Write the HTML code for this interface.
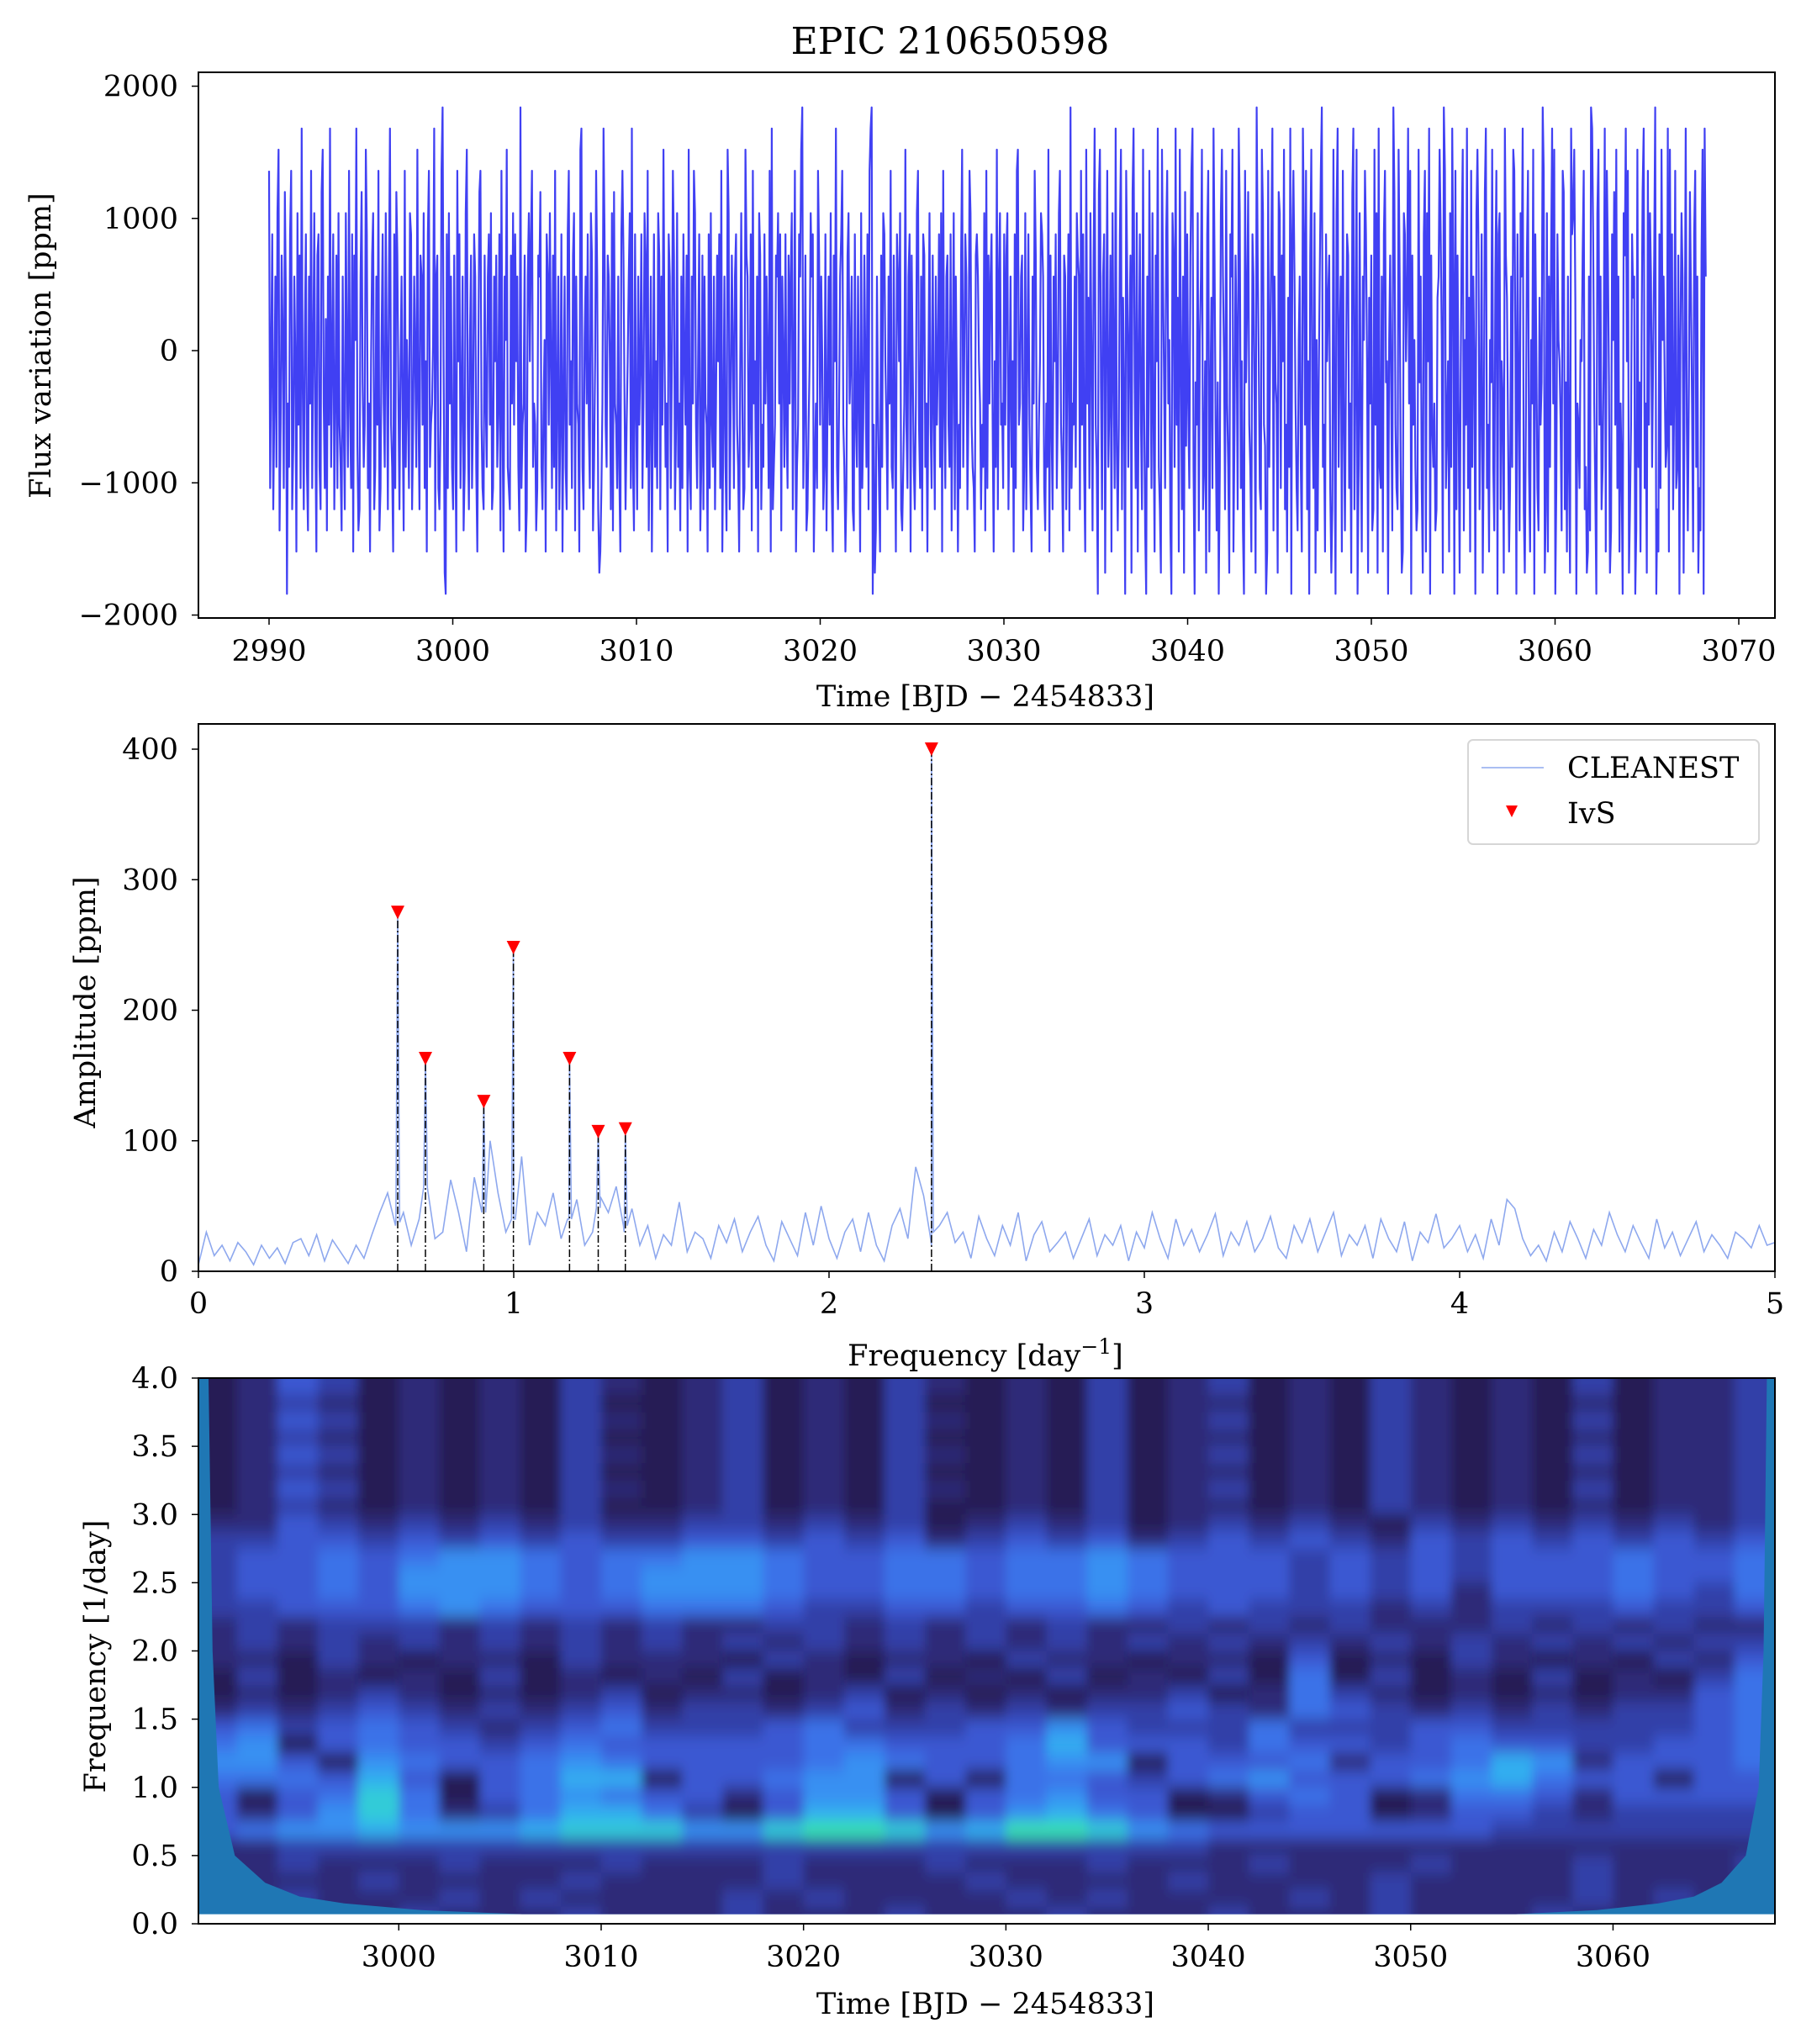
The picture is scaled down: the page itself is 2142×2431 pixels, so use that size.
<!DOCTYPE html>
<html><head><meta charset="utf-8"><style>
html,body{margin:0;padding:0;background:#fff}
svg text{font-family:"DejaVu Serif","Liberation Serif",serif;fill:#000}
</style></head><body>
<svg id="fig" width="2142" height="2426" viewBox="0 0 2142 2426" xmlns="http://www.w3.org/2000/svg">
<text x="1130" y="64" font-size="44" text-anchor="middle">EPIC 210650598</text>
<g id="p1"></g>
<g id="p2"></g>
<g id="p3"></g>
</svg>
<script>
// ---------- Panel 1 data: light curve (each letter = flux level, a=-2000 ... z=+2000 ppm, step 160) ----------
const lcStart = 2990.0;
const lcEnd = 3068.2;
const lcCodes = [
"vgmsfkqhtwejrngupbkhsvfiqmdtjrgxlfnsheqkvgmtjdrshfuwkgoeqjxhmsfkrgtjhe",
"qjftmhvkgsdrnxiefqulhjwsgkdmrtfhqjvegnskhtmfqxjhdsgurkfmqjevhnkgtsfjqm",
"hwkfrqjtgmdsvhjknxeqrgfjvymcbsgtkqhfrjdvmsgkqehtwjfnrgksqhdmuvjgfrkhqs",
"jtfgqmrhksevjdqnwhgfrktjsmqheygjkrdfqtmsvhkjegrquhfkndsqjtmgrhvekqfjsd",
"kqhfsvjmgrteqkjdwxhfnqksjgtrehmvqfcdgkxsjhrqmfteukjgqhdsvrkfjmqtgxhesk",
"fqjmsgktrhvejqdkshmgtrfqjwnhkdsqgmvrfjthkeqgsmjrdwhfqkvtjgmsehrfqkjdsg",
"tjhqfkrmsgvdjqhewtfkrngqsjhdmtkfgwrqhjsevkmgqdtrfjhskqmgvdxfhjrqtkseqm",
"hsjgrkqtfmvdhjsqwygkrefjmtqsdhkgvrjqmfhsekqjtgdrmxhfkqsvjhdgrtkmqfesjh",
"qkdtgjrmhsfvxybjceqkgdrhtsmjfqkvhgrjdsqmtfehkwjgqsdrmhfktvjgqesrhkdmtj",
"grkfqjmshtdvkgqrjhsemtfqkdjgrwhmsqfkvtjhgdrsqmkfjhtevgrkqsjdmhwfqtjkgs",
"jrtfkqhmdsgvwjkqrehtfmsjgdqkvrhfjmtsqgekhwdrjfqmsgktvjhdrqfmseygkjqhtr",
"qfvjshdwkpgtmerxjhbuwlfqscnvhkrdtmgxiejswfpkbvqhnrcuxlgtdmsjfwkebqhvng",
"tjdrmxhfcwqlgsvknebtrhxjpdwmfqcuiskgrvxhbljtenqwfhmcsvdkpgxrjelbhtwqmf",
"vkhcsqwdjrnfxtgmebvlpujhdsqkcyrmgfwtjibdvhnsxeqlkcutgrmwfjdphxbsvqkgen",
"qhdxsjvfmbrwkgtcnelqvyhjdsmprgcfwkbtxhnqdvjemsrgkcuxflwbhtjdqnvsmcpkre",
"fwjtcxhgqdsvlmbnrkeyujgfwqhcdtsmpxkvbrjnhefwlqgcsvdtmxbrjhkefpqwsncyvg",
"jmdthxqbvfrkclswenjxgpdvhqmbtwrfksciuxgjdnlwheqvbstfmkcxrpjdgqhwvnbsle",
"tqxfcjrvhdnkwbsmgepjlyvcftdqhrxkwbgsnmjevufldqhcxstwpbkjgnmrvfhcdqeyxs",
"kgbtwjqfhmxdvrlcesnujwgqdkhbtrxmvcfjspqbewhldnuxgkcvjtqhmrybfdsgwnqlhi",
"xdwjsfkvghrbntqcmxjelupkdsvhqcgerwbxq"
];
const lcFlux = lcCodes.join("").split("").map(ch => -2000 + (ch.charCodeAt(0)-97)*160);
const p1XTicks = [2990,3000,3010,3020,3030,3040,3050,3060,3070];
const p1YTicks = [2000,1000,0,-1000,-2000];
const p1YTickLabels = ["2000","1000","0","\u22121000","\u22122000"];

// ---------- Panel 2 data: periodogram ----------
const specStep = 0.025;
const specNoise = [
5,30,12,20,8,22,15,5,20,10,18,6,22,25,12,28,8,24,15,6,
20,10,28,45,60,35,45,20,40,88,25,30,70,45,15,72,50,100,60,30,
40,88,20,45,35,60,25,40,55,20,30,57,45,65,30,48,20,35,10,28,
20,53,15,30,25,10,35,22,40,15,30,42,20,8,38,25,12,45,20,50,
25,10,30,40,15,45,20,8,35,48,25,80,58,20,35,45,22,30,10,42,
25,12,35,20,45,8,28,38,15,22,30,10,25,40,12,28,20,35,8,30,
18,45,25,10,40,20,32,15,28,44,12,30,20,38,15,25,42,18,10,35,
22,40,15,30,45,12,28,20,35,10,40,25,15,38,8,30,22,44,18,25,
35,15,28,10,40,20,55,48,25,12,20,8,30,15,38,25,10,32,20,45,
28,15,35,22,10,40,18,30,12,25,38,15,28,20,10,30,25,18,35,20,
22
];
const peakFreq = [0.632,0.72,0.905,0.999,1.177,1.268,1.354,2.325];
const peakAmp = [275,163,130,248,163,107,109,400];
const p2XTicks = [0,1,2,3,4,5];
const p2YTicks = [0,100,200,300,400];

// ---------- Panel 3 data: wavelet power (levels 0-9) ----------
const wvT0 = 2990, wvDT = 2;
const wvF0 = 4.0, wvDF = 0.125;
const wvRows = [
"1243121213212312132121312312132121312231",
"1232121213112312131121312212132121212231",
"1243121213212312132121312312132121312231",
"1232121213112312131121312212132121212231",
"1243121213212312132121312312132121312231",
"1232121213112312131121312212132121212231",
"1243121213212312132121312312132121312231",
"1232121213112312131121312212132121212231",
"2243232323223323231232312323213232323232",
"3344343434334434342343423434324343434343",
"3445456654556654455455654443434344454453",
"3445466654566654455455654443434344454453",
"3445466654566654455455654443434244454353",
"3344456544455543344344543433323233343343",
"2323332323232233232323223232322232323222",
"2323232323232323232323232323232323232332",
"2213212213222132122132212214121321213242",
"1312121312121312131213121315131213121353",
"1212321212312212312121223125321212122454",
"2323432323423323423232334325432323233455",
"4534543234533345333446433353334433333455",
"5614544345444445544457444354434544334455",
"6641654456544445654456614445244576244455",
"5554741457714456614155434564445675441444",
"4145851456544246641456441245412554244444",
"4246852357753147741467541134412443233333",
"4566766678886689986799865444444433333333",
"2233333333333333333333333222222222222222",
"2232223222322232223222322232223222322232",
"2222322223222232222322223222232222322223",
"3232223232222323222232322223232222323222",
"2322232223222322232223222322232223222322"
];
const wvColors = ["#1e1240","#271a55","#2e2b78","#3340a8","#3a58d2","#3b72e8","#3890f2","#33aef0","#30ccd8","#38e3b0"];
const coiFreq = [4.0,2.0,1.0,0.5,0.3,0.2,0.15,0.1,0.07];
const coiOffset = [0.5,0.7,1.0,1.8,3.3,5.0,7.2,11,16];
const p3XTicks = [3000,3010,3020,3030,3040,3050,3060];
const p3YTicks = [0,0.5,1,1.5,2,2.5,3,3.5,4];

const NS = "http://www.w3.org/2000/svg";
function mk(parent, tag, attrs, txt){
  const e = document.createElementNS(NS, tag);
  for (const k in attrs) e.setAttribute(k, attrs[k]);
  if (txt !== undefined) e.textContent = txt;
  parent.appendChild(e);
  return e;
}
function lin(d0,d1,r0,r1){ return v => r0 + (v-d0)*(r1-r0)/(d1-d0); }
const L = 236, R = 2111;

// ================= Panel 1 =================
(function(){
  const g = document.getElementById('p1');
  const T = 86, B = 735;
  const x = lin(2990, 3070, 320, 2068);
  const y = lin(0, 2000, 417, 102.5);
  const n = lcFlux.length;
  let d = "";
  lcFlux.forEach((v,i)=>{
    const t = lcStart + i*(lcEnd-lcStart)/(n-1);
    d += (i? "L":"M") + x(t).toFixed(1) + "," + y(v).toFixed(1);
  });
  const line = mk(g,'path',{d:d,fill:'none',stroke:'#2b2bf2','stroke-width':2.2,'stroke-opacity':0.9,'stroke-linejoin':'round'});
  
  
  const fr = mk(g,'rect',{x:L,y:T,width:R-L,height:B-T,fill:'none',stroke:'#000','stroke-width':2});
  
  
  p1XTicks.forEach(t=>{
    mk(g,'line',{x1:x(t),x2:x(t),y1:B,y2:B+8,stroke:'#000','stroke-width':1.5});
    const tx = mk(g,'text',{x:x(t),y:786,'font-size':35,'text-anchor':'middle'},String(t));
    
    
  });
  p1YTicks.forEach((v,i)=>{
    mk(g,'line',{x1:L-8,x2:L,y1:y(v),y2:y(v),stroke:'#000','stroke-width':1.5});
    const tx = mk(g,'text',{x:212,y:y(v)+12,'font-size':35,'text-anchor':'end'},p1YTickLabels[i]);
    
    
  });
  const xl = mk(g,'text',{x:1172,y:840,'font-size':35,'text-anchor':'middle'},"Time [BJD \u2212 2454833]");
  
  
  const yl = mk(g,'text',{x:0,y:0,'font-size':35,'text-anchor':'middle',transform:'translate(60,411) rotate(-90)'},"Flux variation [ppm]");
  
  
})();

// ================= Panel 2 =================
(function(){
  const g = document.getElementById('p2');
  const T = 861, B = 1512;
  const x = lin(0, 5, L, R);
  const y = lin(0, 400, B, 891);
  const pts = specNoise.map((v,i)=>[i*specStep, v]);
  peakFreq.forEach((f,i)=>{
    const base = specNoise[Math.round(f/specStep)] * 0.5 + 20;
    pts.push([f-0.006, base],[f, peakAmp[i]],[f+0.006, base]);
  });
  pts.sort((a,b)=>a[0]-b[0]);
  let d = "";
  pts.forEach((p,i)=>{ d += (i?"L":"M") + x(p[0]).toFixed(1) + "," + y(p[1]).toFixed(1); });
  const line = mk(g,'path',{d:d,fill:'none',stroke:'#8ea8ee','stroke-width':1.6});
  
  
  peakFreq.forEach((f,i)=>{
    const vl = mk(g,'line',{x1:x(f),x2:x(f),y1:B,y2:y(peakAmp[i]),stroke:'#000','stroke-width':1.5,'stroke-dasharray':'9,3,2,3'});
    
    
    const cx = x(f), cy = y(peakAmp[i]);
    const tri = mk(g,'path',{d:`M${cx-8},${cy-8}L${cx+8},${cy-8}L${cx},${cy+8}Z`,fill:'#ff0000'});
    
    
  });
  const fr = mk(g,'rect',{x:L,y:T,width:R-L,height:B-T,fill:'none',stroke:'#000','stroke-width':2});
  
  
  p2XTicks.forEach(t=>{
    mk(g,'line',{x1:x(t),x2:x(t),y1:B,y2:B+8,stroke:'#000','stroke-width':1.5});
    const tx = mk(g,'text',{x:x(t),y:1562,'font-size':35,'text-anchor':'middle'},String(t));
    
    
  });
  p2YTicks.forEach(v=>{
    mk(g,'line',{x1:L-8,x2:L,y1:y(v),y2:y(v),stroke:'#000','stroke-width':1.5});
    const tx = mk(g,'text',{x:212,y:y(v)+12,'font-size':35,'text-anchor':'end'},String(v));
    
    
  });
  const lg = mk(g,'g',{});
  
  
  mk(lg,'rect',{x:1746,y:880,width:346,height:124,rx:6,fill:'#fff','fill-opacity':0.85,stroke:'#d6d6d6','stroke-width':2});
  const ls = mk(lg,'line',{x1:1762,x2:1836,y1:913,y2:913,stroke:'#8ea8ee','stroke-width':1.6});
  
  
  mk(lg,'text',{x:1864,y:925,'font-size':35},"CLEANEST");
  const lt = mk(lg,'path',{d:'M1791,958L1805,958L1798,972Z',fill:'#ff0000'});
  
  
  mk(lg,'text',{x:1864,y:979,'font-size':35},"IvS");
  const xl = mk(g,'text',{x:1172,y:1624,'font-size':35,'text-anchor':'middle'},"Frequency [day");
  
  
  const ts = document.createElementNS(NS,'tspan'); ts.setAttribute('dy','-14'); ts.setAttribute('font-size','25'); ts.textContent='\u22121'; xl.appendChild(ts);
  const ts2 = document.createElementNS(NS,'tspan'); ts2.setAttribute('dy','14'); ts2.textContent=']'; xl.appendChild(ts2);
  const yl = mk(g,'text',{x:0,y:0,'font-size':35,'text-anchor':'middle',transform:'translate(113,1192) rotate(-90)'},"Amplitude [ppm]");
  
  
})();

// ================= Panel 3 =================
(function(){
  const g = document.getElementById('p3');
  const T = 1639, B = 2288;
  const tMin = 2990.1, tMax = 3068.0;
  const x = lin(tMin, tMax, L, R);
  const y = lin(0, 4, B, T);
  const defs = mk(g,'defs',{});
  const flt = mk(defs,'filter',{id:'wblur',x:'-5%',y:'-5%',width:'110%',height:'110%'});
  mk(flt,'feGaussianBlur',{stdDeviation:'6 9'});
  let cd = "";
  coiFreq.forEach((f,i)=>{ cd += (i?"L":"M") + x(tMin+coiOffset[i]).toFixed(1) + "," + y(f).toFixed(1); });
  for (let i=coiFreq.length-1;i>=0;i--) cd += "L" + x(tMax-coiOffset[i]*0.8).toFixed(1) + "," + y(coiFreq[i]).toFixed(1);
  cd += "Z";
  const cp = mk(defs,'clipPath',{id:'coi'});
  mk(cp,'path',{d:cd});
  const bg = mk(g,'rect',{x:L,y:T,width:R-L,height:y(0.07)-T,fill:'#1f77b4'});
  
  
  const clipG = mk(g,'g',{'clip-path':'url(#coi)'});
  const hm = mk(clipG,'g',{filter:'url(#wblur)'});
  
  
  const nR = wvRows.length;
  wvRows.forEach((row,r)=>{
    const nC = row.length;
    for (let c=0;c<nC;c++){
      const lvl = +row[c];
      let x0 = x(wvT0 + c*wvDT), x1 = x(wvT0 + (c+1)*wvDT);
      let y0 = y(wvF0 - r*wvDF), y1 = y(wvF0 - (r+1)*wvDF);
      if (c===0) x0 -= 40;
      if (c===nC-1) x1 += 40;
      if (r===0) y0 -= 40;
      if (r===nR-1) y1 += 40;
      const cell = mk(hm,'rect',{x:x0.toFixed(1),y:y0.toFixed(1),width:(x1-x0+0.6).toFixed(1),height:(y1-y0+0.6).toFixed(1),fill:wvColors[lvl]});
      
      
    }
  });
  const fr = mk(g,'rect',{x:L,y:T,width:R-L,height:B-T,fill:'none',stroke:'#000','stroke-width':2});
  
  
  p3XTicks.forEach(t=>{
    mk(g,'line',{x1:x(t),x2:x(t),y1:B,y2:B+8,stroke:'#000','stroke-width':1.5});
    const tx = mk(g,'text',{x:x(t),y:2339,'font-size':35,'text-anchor':'middle'},String(t));
    
    
  });
  p3YTicks.forEach(v=>{
    mk(g,'line',{x1:L-8,x2:L,y1:y(v),y2:y(v),stroke:'#000','stroke-width':1.5});
    const tx = mk(g,'text',{x:212,y:y(v)+12,'font-size':35,'text-anchor':'end'},v.toFixed(1));
    
    
  });
  const xl = mk(g,'text',{x:1172,y:2395,'font-size':35,'text-anchor':'middle'},"Time [BJD \u2212 2454833]");
  
  
  const yl = mk(g,'text',{x:0,y:0,'font-size':35,'text-anchor':'middle',transform:'translate(125,1970) rotate(-90)'},"Frequency [1/day]");
  
  
})();
</script>
</body></html>
